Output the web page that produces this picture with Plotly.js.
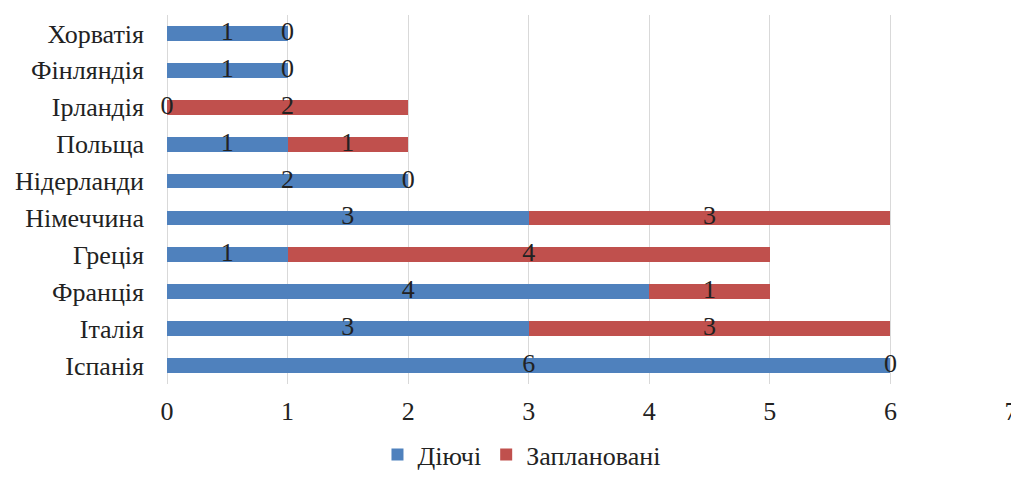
<!DOCTYPE html>
<html>
<head>
<meta charset="utf-8">
<script src="https://cdn.plot.ly/plotly-3.0.1.min.js"></script>
<style>html,body{margin:0;padding:0;background:#fff;}#chart{width:1011px;height:478px;}</style>
</head>
<body>
<div id="chart"></div>
<script>
const countries = ["Іспанія","Італія","Франція","Греція","Німеччина","Нідерланди","Польща","Ірландія","Фінляндія","Хорватія"];
const active = [6,3,4,1,3,2,1,0,1,1];
const planned = [0,3,1,4,3,0,1,2,0,0];
const seriesNames = ["Діючі","Заплановані"];
const xTicks = [0,1,2,3,4,5,6,7];

const FONT = "Liberation Serif";
const TXT = "#222222";

const labelX = [], labelY = [], labelT = [];
countries.forEach((c,i)=>{
  labelX.push(active[i]/2); labelY.push(c); labelT.push(String(active[i]));
  labelX.push(active[i]+planned[i]/2); labelY.push(c); labelT.push(String(planned[i]));
});

const traces = [
  {type:"bar", orientation:"h", name:seriesNames[0], y:countries, x:active,
   marker:{color:"#4f81bd"}, hoverinfo:"x+y"},
  {type:"bar", orientation:"h", name:seriesNames[1], y:countries, x:planned,
   marker:{color:"#c0504d"}, hoverinfo:"x+y"},
  {type:"scatter", mode:"text", x:labelX, y:labelY, text:labelT,
   textposition:"middle center", textfont:{family:FONT,size:26,color:TXT},
   showlegend:false, hoverinfo:"skip", cliponaxis:false}
];

const layout = {
  width:1011, height:478,
  margin:{l:167, r:0, t:15, b:94, autoexpand:false},
  paper_bgcolor:"#fff", plot_bgcolor:"#fff",
  barmode:"stack", bargap:0.6,
  font:{family:FONT, size:26, color:TXT},
  xaxis:{range:[0,7], tickvals:xTicks, ticktext:xTicks.map(String),
    showgrid:true, gridcolor:"#d9d9d9", gridwidth:1,
    zeroline:true, zerolinecolor:"#d9d9d9", zerolinewidth:1,
    showline:false, ticks:"", ticklabelstandoff:9, automargin:false,
    ticklabeloverflow:"allow",
    tickfont:{family:FONT,size:26,color:TXT}},
  yaxis:{type:"category", categoryorder:"array", categoryarray:countries,
    showgrid:false, zeroline:false, showline:false, ticks:"", automargin:false,
    ticklabelstandoff:22, tickfont:{family:FONT,size:26,color:TXT}},
  legend:{orientation:"h", x:0.42, xanchor:"center", yref:"container", y:0, yanchor:"bottom",
    font:{family:FONT,size:26,color:TXT}, itemwidth:30, traceorder:"normal",
    bgcolor:"rgba(0,0,0,0)"},
  showlegend:true
};

Plotly.newPlot("chart", traces, layout, {displayModeBar:false, staticPlot:true});
</script>
</body>
</html>
